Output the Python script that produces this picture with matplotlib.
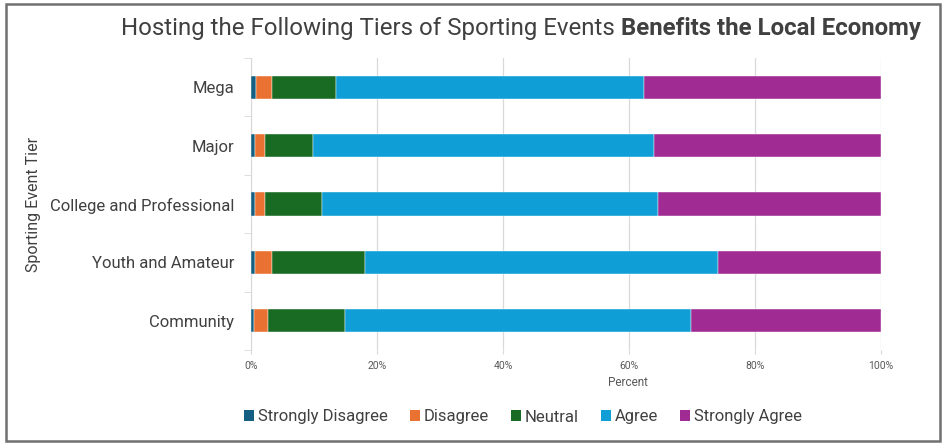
import numpy as np
import matplotlib
matplotlib.use("Agg")
import matplotlib.pyplot as plt
from matplotlib.patches import Rectangle, Patch

# data (percent of respondents)
tiers = ["Mega", "Major", "College and Professional", "Youth and Amateur", "Community"]
responses = ["Strongly Disagree", "Disagree", "Neutral", "Agree", "Strongly Agree"]
strongly_disagree = [0.8, 0.7, 0.6, 0.6, 0.4]
disagree = [2.6, 1.6, 1.6, 2.7, 2.3]
neutral = [10.1, 7.6, 9.0, 14.8, 12.2]
agree = [48.9, 54.0, 53.4, 56.1, 55.0]
strongly_agree = [37.6, 36.1, 35.4, 25.8, 30.1]
xticks = [0, 20, 40, 60, 80, 100]

colors = ["#156082", "#E97132", "#196B24", "#0F9ED5", "#A02B93"]

plt.rcParams["font.family"] = ["Roboto", "DejaVu Sans"]

fig = plt.figure(figsize=(9.48, 4.45), dpi=100)
ax = fig.add_axes([251/948, 1 - 350/445, 630/948, 292/445])

series = [strongly_disagree, disagree, neutral, agree, strongly_agree]
ypos = np.arange(len(tiers))
left = np.zeros(len(tiers))
for vals, col, name in zip(series, colors, responses):
    vals = np.array(vals)
    ax.barh(ypos, vals, left=left, height=0.4, color=col, label=name,
            edgecolor="white", linewidth=0.3, zorder=3)
    left += vals

ax.set_ylim(len(tiers) - 0.5, -0.5)
ax.set_xlim(0, 100)
ax.set_yticks(ypos)
ax.set_yticklabels(tiers, fontsize=12, color="#404040")
ax.set_yticks(np.arange(-0.5, len(tiers)), minor=True)
ax.tick_params(axis="y", which="major", length=0, pad=12)
ax.tick_params(axis="y", which="minor", length=5, color="#D9D9D9")

ax.set_xticks(xticks)
ax.set_xticklabels([f"{t}%" for t in xticks], fontsize=7.5, color="#595959")
ax.tick_params(axis="x", length=3, color="#D9D9D9", pad=5)
ax.grid(axis="x", color="#D9D9D9", linewidth=0.9, zorder=0)

for s in ["top", "right", "bottom"]:
    ax.spines[s].set_visible(False)
ax.spines["left"].set_color("#D9D9D9")

ax.set_xlabel("Percent", fontsize=8.5, color="#595959")
ax.xaxis.set_label_coords((628 - 251) / 630, -(382 - 350) / 292)
ax.xaxis.label.set_va("center")
ax.set_ylabel("Sporting Event Tier", fontsize=11.5, color="#404040")
ax.yaxis.set_label_coords((33 - 251) / 630, 0.5)
ax.yaxis.label.set_va("center")

handles = [Patch(facecolor=c, edgecolor="none") for c in colors]
fig.legend(handles, responses, loc="center", bbox_to_anchor=(523/948, 1 - 417/445),
           ncol=5, frameon=False, fontsize=12, handlelength=0.6, handleheight=0.6,
           handletextpad=0.25, columnspacing=1.3, labelcolor="#404040")

# two-part title: regular + bold
renderer = fig.canvas.get_renderer()
t1 = fig.text(121/948, 1 - 29/445, "Hosting the Following Tiers of Sporting Events ",
              fontsize=17.3, color="#404040", ha="left", va="center")
bb = t1.get_window_extent(renderer=renderer)
fig.text(bb.x1 / fig.bbox.width, 1 - 29/445, "Benefits the Local Economy",
         fontsize=17.3, fontweight="bold", color="#404040", ha="left", va="center")

fig.patches.append(Rectangle((6/948, 4/445), 934/948, 437/445, transform=fig.transFigure,
                             fill=False, edgecolor="#707070", linewidth=1.8))

fig.savefig("out.png", dpi=100)
